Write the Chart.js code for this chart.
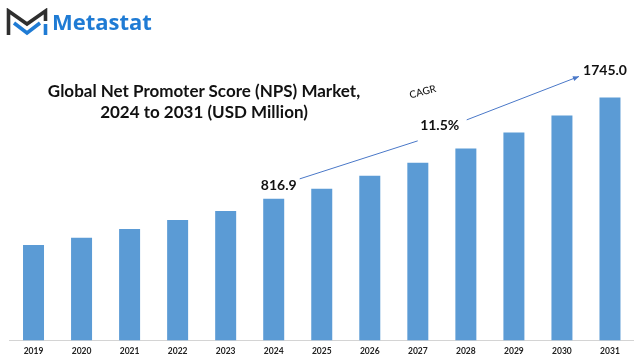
<!DOCTYPE html>
<html>
<head>
<meta charset="utf-8">
<script src="https://cdn.jsdelivr.net/npm/chart.js@4.4.1/dist/chart.umd.min.js"></script>
<style>
  html, body { margin: 0; padding: 0; background: #fff; overflow: hidden; }
  #wrap { position: relative; width: 634px; height: 357px; overflow: hidden; }
  #c { position: absolute; left: 0; top: 0; }
  #title { position: absolute; left: 13px; width: 382px; top: 80px; text-align: center;
    font-family: Lato, "Open Sans", sans-serif; font-weight: 700; font-size: 17px; line-height: 21px; color: #111; }
  #logoText { position: absolute; left: 52px; top: 6px; font-family: "Open Sans", sans-serif; font-weight: 700;
    font-size: 22px; color: #1f7bd4; letter-spacing: 0px; }
  #logoIcon { position: absolute; left: 5px; top: 8px; }
</style>
</head>
<body>
<div id="wrap">
  <canvas id="c" width="634" height="365"></canvas>
  <svg id="logoIcon" width="44" height="30" viewBox="0 0 44 30">
    <polyline points="3.5,27 3.5,3 22,16 40.5,3 40.5,13" fill="none" stroke="#2f2f2f" stroke-width="3.6" stroke-linejoin="miter"/>
    <polyline points="9,15 22,25 35,15" fill="none" stroke="#1f7bd4" stroke-width="3.6"/>
    <line x1="40.5" y1="16" x2="40.5" y2="27" stroke="#1f7bd4" stroke-width="3.6"/>
  </svg>
  <div id="logoText">Metastat</div>
  <div id="title">Global Net Promoter Score (NPS) Market,<br>2024 to 2031 (USD Million)</div>
</div>
<script>
const categories = ["2019","2020","2021","2022","2023","2024","2025","2026","2027","2028","2029","2030","2031"];
const marketValues = [395, 462, 542, 624, 707, 816.9, 909, 1029, 1148, 1277, 1424, 1580, 1745.0];
const startLabel = "816.9";
const endLabel = "1745.0";
const cagrLabel = "11.5%";
const axisMin = -478.3;
const axisMax = 2636.8;

const annotationPlugin = {
  id: 'cagrNotes',
  afterDatasetsDraw(chart) {
    const ctx = chart.ctx;
    const xs = chart.scales.x, ys = chart.scales.y;
    const x0 = xs.getPixelForValue(5), y0 = ys.getPixelForValue(marketValues[5]);
    const x1 = xs.getPixelForValue(12), y1 = ys.getPixelForValue(marketValues[12]);
    ctx.save();
    ctx.fillStyle = '#111';
    ctx.textAlign = 'center';
    ctx.textBaseline = 'middle';
    ctx.font = '700 14px Lato, "Open Sans", sans-serif';
    ctx.fillText(startLabel, x0 + 5, y0 - 13);
    ctx.fillText(endLabel, x1 - 5, y1 - 27);
    ctx.fillText(cagrLabel, x0 + 166, y0 - 73);
    ctx.save();
    ctx.translate(x0 + 149, y0 - 107);
    ctx.rotate(-15 * Math.PI / 180);
    ctx.font = '500 10px Lato, "Open Sans", sans-serif';
    ctx.fillText('CAGR', 0, 0);
    ctx.restore();
    ctx.strokeStyle = '#4a78c8';
    ctx.lineWidth = 1;
    ctx.beginPath();
    ctx.moveTo(x0 + 26, y0 - 20);
    ctx.lineTo(x0 + 144, y0 - 58);
    ctx.stroke();
    const ax = x1 - 31, ay = y1 - 21;
    const bx = x0 + 193, by = y0 - 79;
    ctx.beginPath();
    ctx.moveTo(bx, by);
    ctx.lineTo(ax, ay);
    ctx.stroke();
    const ang = Math.atan2(ay - by, ax - bx);
    ctx.fillStyle = '#4a78c8';
    ctx.beginPath();
    ctx.moveTo(ax, ay);
    ctx.lineTo(ax - 6 * Math.cos(ang) + 2.5 * Math.sin(ang), ay - 6 * Math.sin(ang) - 2.5 * Math.cos(ang));
    ctx.lineTo(ax - 6 * Math.cos(ang) - 2.5 * Math.sin(ang), ay - 6 * Math.sin(ang) + 2.5 * Math.cos(ang));
    ctx.closePath();
    ctx.fill();
    ctx.restore();
  }
};

new Chart(document.getElementById('c'), {
  type: 'bar',
  data: {
    labels: categories,
    datasets: [{
      data: marketValues,
      base: axisMin,
      backgroundColor: '#5b9bd5',
      borderWidth: 0,
      categoryPercentage: 1.0,
      barPercentage: 0.437
    }]
  },
  options: {
    responsive: false,
    animation: false,
    devicePixelRatio: 1,
    layout: { padding: { left: 9.5, right: 0, top: 0, bottom: 2.4 } },
    plugins: { legend: { display: false }, tooltip: { enabled: false }, title: { display: false } },
    scales: {
      x: {
        grid: { display: false, drawTicks: false },
        border: { display: true, color: '#d4d4d4', width: 1 },
        ticks: { padding: 6, color: '#222', font: { family: 'Lato, "Open Sans", sans-serif', size: 8.5, weight: '700' }, maxRotation: 0, autoSkip: false }
      },
      y: {
        display: false,
        min: axisMin,
        max: axisMax
      }
    }
  },
  plugins: [annotationPlugin]
});
</script>
</body>
</html>
